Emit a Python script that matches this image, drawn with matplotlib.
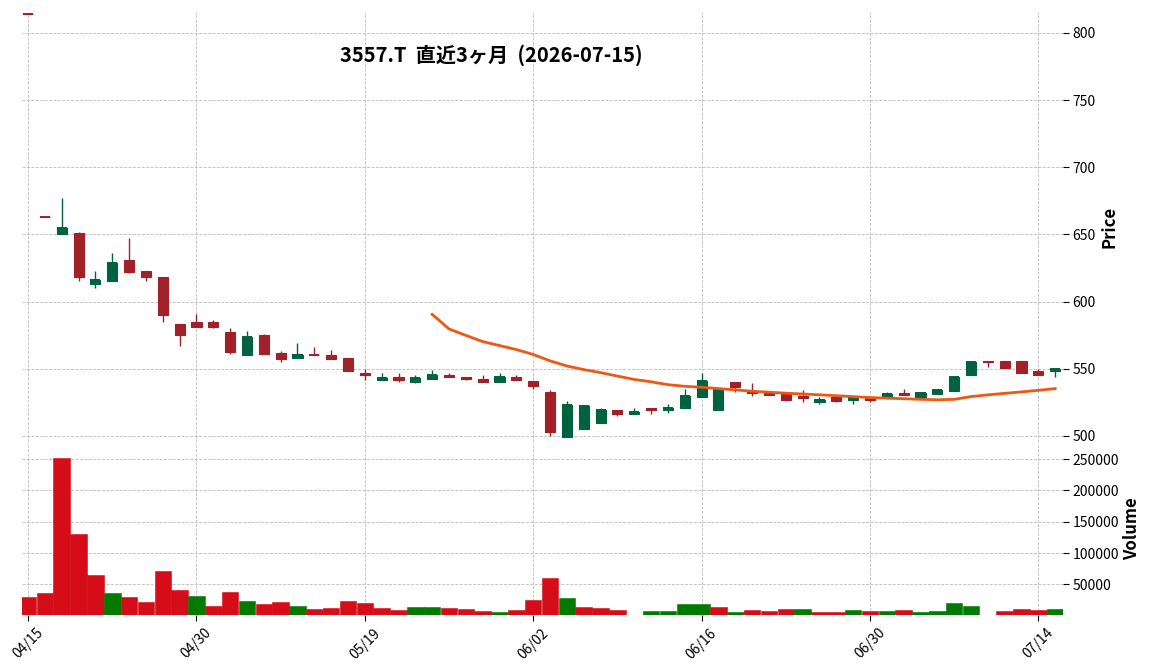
import numpy as np
import pandas as pd
import matplotlib
matplotlib.use('Agg')
import matplotlib.pyplot as plt

plt.rcParams['font.family'] = ['Noto Sans CJK JP', 'DejaVu Sans']

# 3557.T daily bars, last 3 months
opens = [814, 663, 650, 651, 613, 615, 631, 623, 618, 583,
         585, 585, 577, 560, 575, 562, 558, 560, 560, 558,
         546.5, 542, 544, 540, 542.5, 545.5, 544, 542.5, 540.5, 543.5,
         541, 533, 499.5, 505.5, 510, 519, 516.5, 521, 519, 520.5,
         529, 519, 540, 533.5, 532, 531.5, 529.5, 525, 529, 526.5,
         528.5, 529, 532, 529, 531.5, 533.5, 545, 555.5, 555.5, 555.5,
         548.5, 548.5]
highs = [814, 663, 677, 652, 623, 636, 647, 623, 618, 583,
         591, 586, 580, 578, 576, 563, 569, 566, 564, 558,
         550, 546.5, 546.5, 545, 549, 546.5, 544, 545, 547, 545.5,
         541, 534.5, 526, 522.5, 521, 519, 521, 521, 524, 535,
         547, 535, 540.5, 539.5, 532, 531.5, 534.5, 529, 529, 530,
         528.5, 532.5, 535, 533, 535, 544, 555.5, 555.5, 555.5, 555.5,
         549.5, 550]
lows = [814, 663, 650, 615, 610, 615, 621, 615, 585, 567,
        581, 580, 561, 560, 561, 555, 558, 560, 557, 548.5,
        542, 542, 540.5, 539.5, 542.5, 543.5, 542, 540.5, 540.5, 542,
        535, 500, 499.5, 505.5, 510, 514.5, 516.5, 516, 517, 520.5,
        529, 519, 533, 530, 530.5, 526, 525, 523.5, 525.5, 523.5,
        525, 529, 530.5, 529, 531.5, 533.5, 545, 551, 550.5, 546.5,
        545.5, 543.5]
closes = [814, 663, 655, 618, 616, 629, 622, 618, 590, 575,
          581, 581, 562.5, 574, 561, 557.5, 560, 560, 557.5, 548.5,
          545, 543, 542, 543, 545.5, 543.5, 542.5, 540.5, 543.5, 542,
          537.5, 503, 523, 522.5, 519, 516.5, 518, 519, 521, 530,
          541, 534, 536.5, 532, 530.5, 526.5, 528, 527, 526, 528.5,
          526.5, 531, 530.5, 532, 534.5, 544, 555, 555, 550.5, 546.5,
          545.5, 550]
volumes = [29300, 35600, 252000, 131100, 64300, 35600, 29300, 21300, 70600, 40400,
           30900, 15000, 37200, 22900, 18100, 21300, 15000, 10200, 11800, 22900,
           19700, 11800, 8600, 13400, 13400, 11800, 10200, 7000, 5400, 8600,
           24500, 59500, 27700, 13400, 11800, 8600, 1500, 7000, 7000, 18100,
           18100, 13400, 5400, 8600, 7000, 10200, 10200, 5400, 5400, 8600,
           7000, 7000, 8600, 5400, 7000, 19700, 15000, 1500, 7000, 10200,
           8600, 10200]

holidays = ['2026-04-29', '2026-05-04', '2026-05-05', '2026-05-06']
dates = pd.bdate_range('2026-04-15', '2026-07-15')
dates = dates[~dates.isin(pd.to_datetime(holidays))]

title = '3557.T  直近3ヶ月  (2026-07-15)'
mav = 25

up_c, down_c = '#006340', '#A02128'
vup_c, vdown_c = '#007a00', '#d50d18'

x = np.arange(len(closes))
o = np.array(opens); h = np.array(highs); l = np.array(lows); c = np.array(closes)
cols = [up_c if cc > oo else down_c for oo, cc in zip(o, c)]
prev = np.r_[np.inf, c[:-1]]
vcols = [vup_c if cc > pp else vdown_c for cc, pp in zip(c, prev)]

fig = plt.figure(figsize=(11.52, 6.70), dpi=100)
ax = fig.add_axes([0.0191, 0.3403, 0.9036, 0.6422])
ax2 = fig.add_axes([0.0191, 0.0815, 0.9036, 0.2588], sharex=ax)

for a in (ax, ax2):
    for s in a.spines.values():
        s.set_visible(False)
    a.set_axisbelow(True)
    a.grid(True, linestyle='--', linewidth=0.6, color='#bdbdbd')
    a.yaxis.tick_right()
    a.yaxis.set_label_position('right')
    a.tick_params(axis='y', labelsize=10, length=4, width=0.8, pad=3)

# candles
ax.vlines(x, l, h, colors=cols, linewidth=1.0, zorder=2)
ax.hlines(c, x - 0.3, x + 0.3, colors=cols, linewidth=1.4, zorder=3)
ax.bar(x, np.abs(c - o), bottom=np.minimum(o, c), width=0.6, color=cols,
       edgecolor=cols, linewidth=0.8, zorder=3)

ma = pd.Series(closes).rolling(mav).mean()
ax.plot(x, ma, color='#ef5714', linewidth=2, zorder=4)

ax.set_ylim(495.5, 815.7)
ax.set_xlim(-0.36, 61.46)
ax.tick_params(axis='x', bottom=False, labelbottom=False)
ax.set_ylabel('Price', fontsize=12, fontweight='bold', labelpad=3)

# volume
ax2.bar(x, volumes, width=0.98, color=vcols, edgecolor=vcols, linewidth=0.4)
ax2.set_ylim(0.3 * min(volumes), 1.1 * max(volumes))
ax2.set_ylabel('Volume', fontsize=12, fontweight='bold', labelpad=3)
ticks = x[::10]
ax2.set_xticks(ticks)
ax2.set_xticklabels([dates[i].strftime('%m/%d') for i in ticks],
                    rotation=45, ha='center', fontsize=10)
ax2.tick_params(axis='x', length=4, width=0.8)

fig.text(491 / 1152, 1 - 55 / 670, title, ha='center', va='center',
         fontsize=14.5, fontweight='bold')

fig.savefig('out.png', dpi=100)
